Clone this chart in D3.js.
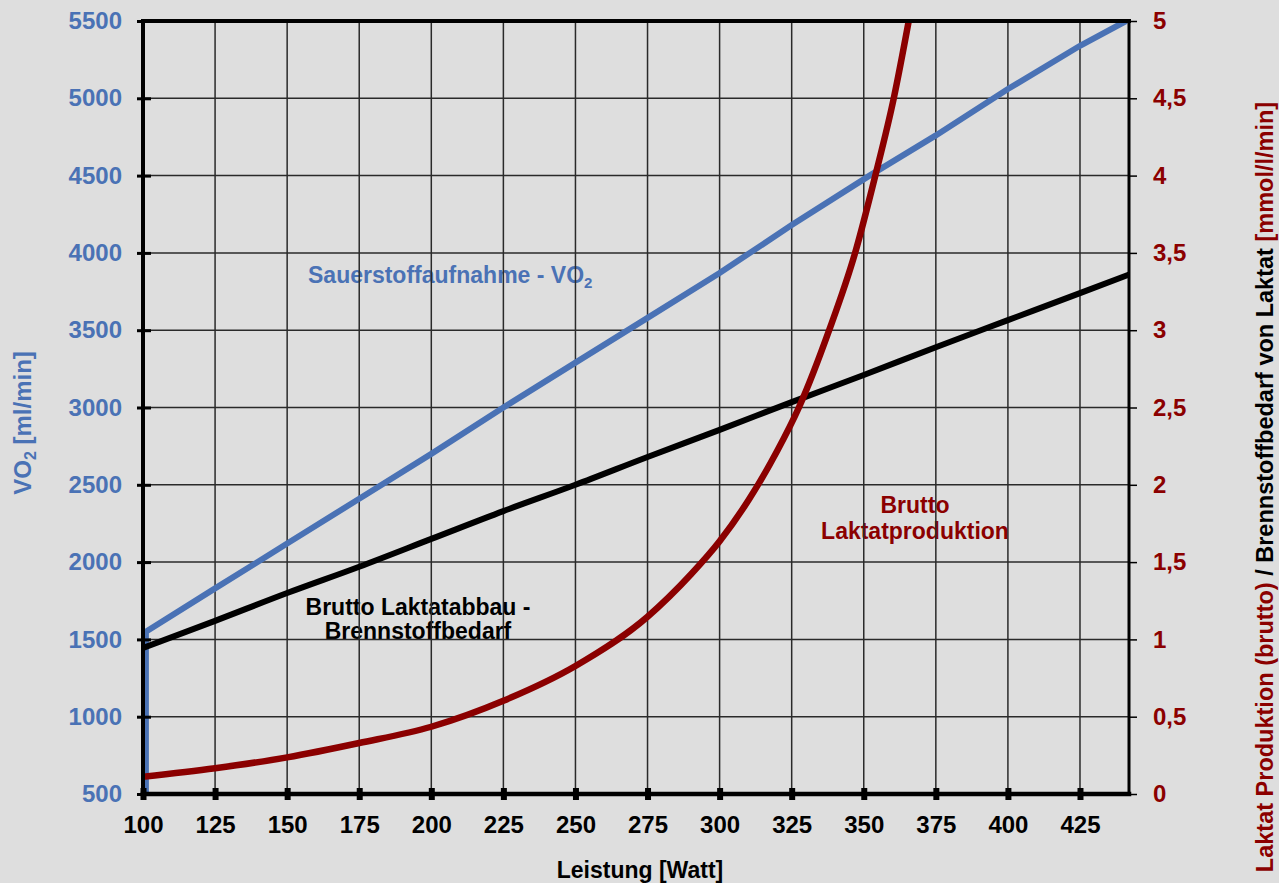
<!DOCTYPE html>
<html>
<head>
<meta charset="utf-8">
<script src="https://cdn.jsdelivr.net/npm/d3@7"></script>
<style>
  html, body { margin: 0; padding: 0; background: #dedede; }
  svg { display: block; font-family: "Liberation Sans", Arial, sans-serif; font-weight: bold; }
</style>
</head>
<body>
<svg id="chart" width="1279" height="883"></svg>
<script>
//Values
const xTicks = [100, 125, 150, 175, 200, 225, 250, 275, 300, 325, 350, 375, 400, 425];
const leftTicks = [500, 1000, 1500, 2000, 2500, 3000, 3500, 4000, 4500, 5000, 5500];
const rightTicks = [0, 0.5, 1, 1.5, 2, 2.5, 3, 3.5, 4, 4.5, 5];

//Sauerstoffaufnahme (left axis, ml/min)
const vo2Watt = [101, 101, 125, 150, 175, 200, 225, 250, 275, 300, 325, 352, 375, 400, 425, 441];
const vo2Values = [500, 1550, 1830, 2120, 2410, 2700, 3000, 3290, 3580, 3870, 4180, 4500, 4760, 5060, 5340, 5500];

//Brutto Laktatabbau - Brennstoffbedarf (right axis, mmol/l/min)
const abbauWatt = [100, 125, 150, 175, 200, 225, 250, 275, 300, 325, 350, 375, 400, 425, 442];
const abbauValues = [0.944, 1.12, 1.3, 1.47, 1.65, 1.83, 2.0, 2.18, 2.355, 2.535, 2.71, 2.89, 3.065, 3.24, 3.36];

//Brutto Laktatproduktion (right axis, mmol/l/min)
const prodWatt = [100, 125, 150, 175, 200, 225, 250, 275, 290, 300, 310, 320, 327.5, 338, 347, 354, 360.4, 365.6];
const prodValues = [0.112, 0.167, 0.237, 0.33, 0.435, 0.603, 0.828, 1.147, 1.42, 1.635, 1.9, 2.22, 2.5, 3.0, 3.5, 4.0, 4.5, 5.0];

const blue = "#4a72b5";
const darkRed = "#8b0000";
const plotLeft = 143, plotRight = 1129, plotTop = 21, plotBottom = 794;

const svg = d3.select("#chart");

const x = d3.scaleLinear().domain([100, 442]).range([plotLeft, plotRight]);
const yLeft = d3.scaleLinear().domain([500, 5500]).range([plotBottom, plotTop]);
const yRight = d3.scaleLinear().domain([0, 5]).range([plotBottom, plotTop]);

const commaFormat = v => String(v).replace(".", ",");

svg.append("rect")
  .attr("width", 1279)
  .attr("height", 883)
  .attr("fill", "#dedede");

//Annotations sit below the grid
const notes = svg.append("g").attr("font-size", 23);

const vo2Note = notes.append("text")
  .attr("x", 308)
  .attr("y", 283)
  .attr("fill", blue)
  .text("Sauerstoffaufnahme - VO");
vo2Note.append("tspan")
  .attr("font-size", 15)
  .attr("dy", 5)
  .text("2");

notes.append("text")
  .attr("text-anchor", "middle")
  .attr("fill", "#000")
  .selectAll("tspan")
  .data(["Brutto Laktatabbau -", "Brennstoffbedarf"])
  .enter()
  .append("tspan")
  .attr("x", 418)
  .attr("y", (d, i) => 615 + i * 24)
  .text(d => d);

notes.append("text")
  .attr("text-anchor", "middle")
  .attr("fill", darkRed)
  .selectAll("tspan")
  .data(["Brutto", "Laktatproduktion"])
  .enter()
  .append("tspan")
  .attr("x", 915)
  .attr("y", (d, i) => 513 + i * 26)
  .text(d => d);

//Grid
const grid = svg.append("g")
  .attr("stroke", "#2a2a2a")
  .attr("stroke-width", 1.5);

grid.selectAll(".vgrid")
  .data(xTicks.slice(1))
  .enter()
  .append("line")
  .attr("class", "vgrid")
  .attr("x1", d => x(d))
  .attr("x2", d => x(d))
  .attr("y1", plotTop)
  .attr("y2", plotBottom);

grid.selectAll(".hgrid")
  .data(leftTicks.slice(1, -1))
  .enter()
  .append("line")
  .attr("class", "hgrid")
  .attr("x1", plotLeft)
  .attr("x2", plotRight)
  .attr("y1", d => yLeft(d))
  .attr("y2", d => yLeft(d));

//Series
svg.append("clipPath")
  .attr("id", "plot-clip")
  .append("rect")
  .attr("x", plotLeft)
  .attr("y", plotTop)
  .attr("width", plotRight - plotLeft)
  .attr("height", plotBottom - plotTop);

const series = svg.append("g").attr("clip-path", "url(#plot-clip)");

const vo2Line = d3.line()
  .x((d, i) => x(vo2Watt[i]))
  .y(d => yLeft(d));

const rightLine = watts => d3.line()
  .x((d, i) => x(watts[i]))
  .y(d => yRight(d))
  .curve(d3.curveMonotoneX);

series.append("path")
  .attr("d", vo2Line(vo2Values))
  .attr("fill", "none")
  .attr("stroke", blue)
  .attr("stroke-width", 6);

series.append("path")
  .attr("d", rightLine(abbauWatt)(abbauValues))
  .attr("fill", "none")
  .attr("stroke", "#000")
  .attr("stroke-width", 6);

series.append("path")
  .attr("d", rightLine(prodWatt)(prodValues))
  .attr("fill", "none")
  .attr("stroke", darkRed)
  .attr("stroke-width", 6.5);

//Axes
const axisLeft = svg.append("g")
  .attr("transform", `translate(${plotLeft},0)`)
  .call(d3.axisLeft(yLeft).tickValues(leftTicks).tickFormat(d3.format("d")).tickSizeInner(6).tickSizeOuter(0).tickPadding(15));
axisLeft.select(".domain").remove();
axisLeft.selectAll(".tick line").attr("x2", -6).attr("x1", 8).attr("stroke", "#000").attr("stroke-width", 3);
axisLeft.selectAll(".tick text")
  .attr("fill", blue)
  .attr("font-size", 24)
  .attr("font-family", "Liberation Sans, Arial, sans-serif");

const axisRight = svg.append("g")
  .attr("transform", `translate(${plotRight},0)`)
  .call(d3.axisRight(yRight).tickValues(rightTicks).tickFormat(commaFormat).tickSizeInner(8).tickSizeOuter(0).tickPadding(16));
axisRight.select(".domain").remove();
axisRight.selectAll(".tick line").attr("stroke", "#000").attr("stroke-width", 1.5);
axisRight.selectAll(".tick text")
  .attr("fill", darkRed)
  .attr("font-size", 24)
  .attr("font-family", "Liberation Sans, Arial, sans-serif");

const axisBottom = svg.append("g")
  .attr("transform", `translate(0,${plotBottom})`)
  .call(d3.axisBottom(x).tickValues(xTicks).tickSizeInner(6).tickSizeOuter(0));
axisBottom.select(".domain").remove();
axisBottom.selectAll(".tick line").attr("y1", -6).attr("y2", 6).attr("stroke", "#000").attr("stroke-width", 6);
axisBottom.selectAll(".tick text")
  .attr("y", 39)
  .attr("dy", 0)
  .attr("fill", "#000")
  .attr("font-size", 24)
  .attr("font-family", "Liberation Sans, Arial, sans-serif");

//Frame
const frame = svg.append("g").attr("stroke", "#000").attr("stroke-linecap", "square");
frame.append("line").attr("x1", plotLeft).attr("x2", plotRight).attr("y1", plotTop).attr("y2", plotTop).attr("stroke-width", 4);
frame.append("line").attr("x1", plotLeft).attr("x2", plotRight).attr("y1", plotBottom).attr("y2", plotBottom).attr("stroke-width", 4.5);
frame.append("line").attr("x1", plotLeft).attr("x2", plotLeft).attr("y1", plotTop).attr("y2", plotBottom).attr("stroke-width", 4);
frame.append("line").attr("x1", plotRight).attr("x2", plotRight).attr("y1", plotTop).attr("y2", plotBottom).attr("stroke-width", 3);

//Axis titles
svg.append("text")
  .attr("x", 640)
  .attr("y", 878)
  .attr("text-anchor", "middle")
  .attr("font-size", 23)
  .attr("fill", "#000")
  .text("Leistung [Watt]");

const leftTitle = svg.append("text")
  .attr("transform", "translate(31,423) rotate(-90)")
  .attr("text-anchor", "middle")
  .attr("font-size", 24)
  .attr("fill", blue);
leftTitle.append("tspan").text("VO");
leftTitle.append("tspan").attr("font-size", 16).attr("dy", 5).text("2");
leftTitle.append("tspan").attr("dy", -5).text(" [ml/min]");

const rightTitle = svg.append("text")
  .attr("transform", "translate(1273,487) rotate(-90)")
  .attr("text-anchor", "middle")
  .attr("font-size", 23.5);
rightTitle.append("tspan").attr("fill", darkRed).text("Laktat Produktion (brutto)");
rightTitle.append("tspan").attr("fill", "#000").text(" / Brennstoffbedarf von Laktat ");
rightTitle.append("tspan").attr("fill", darkRed).text(" [mmol/l/min]");
</script>
</body>
</html>
